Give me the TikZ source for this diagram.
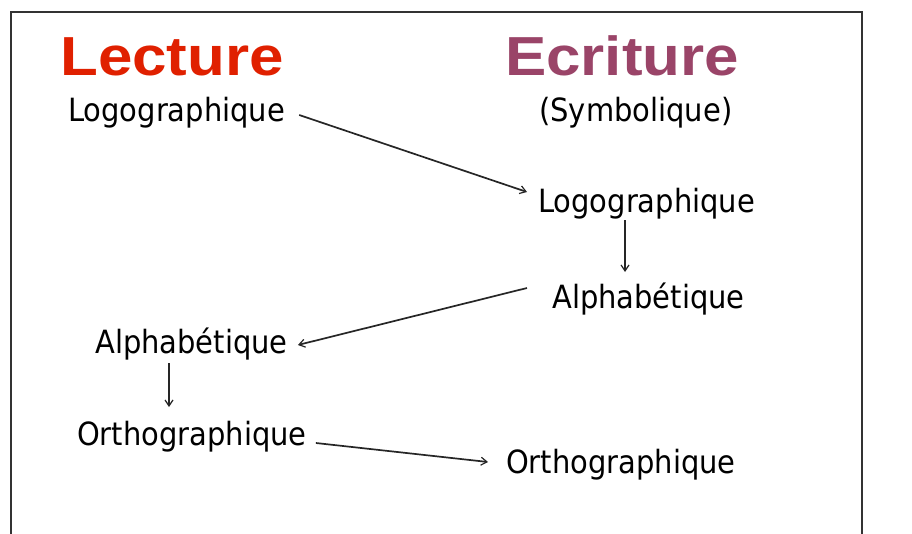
\documentclass[tikz,border=0pt]{standalone}
\usepackage{fontspec}
\usetikzlibrary{arrows.meta}
\newfontfamily\lblfont[FakeStretch=0.905]{DejaVu Sans}
\newfontfamily\ttlfont[FakeStretch=1.125]{Liberation Sans}
\definecolor{lecred}{HTML}{E02000}
\definecolor{ecrpurple}{HTML}{9A4468}
\tikzset{
  lbl/.style={anchor=base west, inner sep=0pt, font=\lblfont\fontsize{32}{36}\selectfont},
  ttl/.style={anchor=base west, inner sep=0pt, font=\ttlfont\bfseries\fontsize{55}{60}\selectfont},
  conn/.style={line width=1.7pt, draw=black!85, -{Straight Barb[length=6pt,width=8pt,line width=1.2pt]}}
}
\begin{document}
\begin{tikzpicture}[x=1pt,y=-1pt]
\useasboundingbox (0,0) rectangle (912,533);
\clip (0,0) rectangle (912,533);
\draw[line width=1.8pt, draw=black!80] (11,12) rectangle (862,600);
\node[ttl, text=lecred] (lec) at (60,75) {Lecture};
\node[ttl, text=ecrpurple] (ecr) at (505,75) {Ecriture};
\node[lbl] (sym) at (539,121) {(Symbolique)};
\node[lbl] (L1) at (68,121) {Logographique};
\node[lbl] (E1) at (538,212) {Logographique};
\node[lbl] (E2) at (552,308) {Alphabétique};
\node[lbl] (L2) at (95,353) {Alphabétique};
\node[lbl] (L3) at (77,445) {Orthographique};
\node[lbl] (E3) at (506,473) {Orthographique};
\draw[conn] ([shift={(14,-6)}]L1.base east) -- ([shift={(-11,-20)}]E1.base west);
\draw[conn] ([shift={(87,8)}]E1.base west) -- ([shift={(87,-36)}]E1.base west |- E2.base west);
\draw[conn] ([shift={(-25,-20)}]E2.base west) -- ([shift={(10,-8)}]L2.base east);
\draw[conn] ([shift={(74,10)}]L2.base west) -- ([shift={(74,-38)}]L2.base west |- L3.base west);
\draw[conn] ([shift={(9,-2)}]L3.base east) -- ([shift={(-18,-11)}]E3.base west);
\end{tikzpicture}
\end{document}
